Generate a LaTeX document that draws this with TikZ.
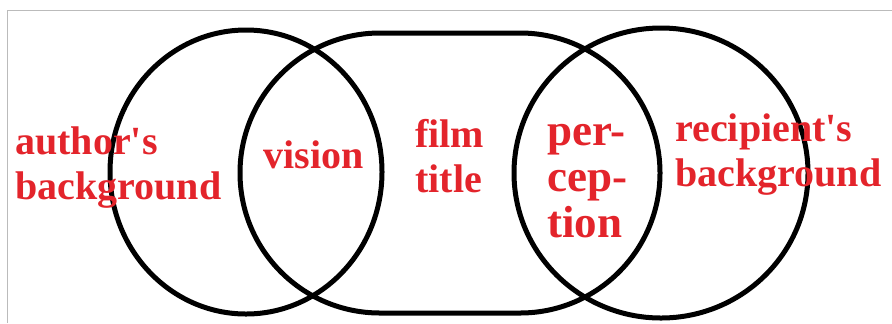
\documentclass[tikz,border=0pt]{standalone}
\usepackage{fontspec}
\setmainfont{Liberation Serif}
\usepackage{xcolor}
\usepackage{tikz}
\usetikzlibrary{shapes.geometric}
\definecolor{labelred}{HTML}{E3242B}
\definecolor{framegray}{HTML}{BBBBBB}

\begin{document}
\begin{tikzpicture}[
  x=0.5pt, y=-0.5pt,
  ring/.style={draw=black, line width=2.5pt, ellipse, inner sep=0pt},
  lbl/.style={text=labelred, font=\bfseries\fontsize{20pt}{22.5pt}\selectfont, align=left, inner sep=0pt, anchor=base west},
  biglbl/.style={lbl, font=\bfseries\fontsize{22.5pt}{23pt}\selectfont}
]
\useasboundingbox (0,0) rectangle (892,323);
\draw[framegray, line width=0.5pt] (7,323) -- (7,10) -- (892,10);
\node[ring, minimum width=136pt, minimum height=142pt] (author) at (246,172) {};
\node[draw=black, line width=2.5pt, rounded corners=70pt, minimum width=210pt, minimum height=140pt] (film) at (450,173) {};
\node[ring, minimum width=147pt, minimum height=145pt] (recipient) at (661,173) {};
% anchor base = last line
\node[lbl] (authorbg) at (15,199) {author\textquotesingle s\\background};
\node[lbl] (vision) at (263,168) {vision};
\node[lbl] (title) at (415,192) {film\\title};
\node[biglbl] (perception) at (547,237) {per-\\cep-\\tion};
\node[lbl] (recipientbg) at (675,186) {recipient\textquotesingle s\\background};
\end{tikzpicture}
\end{document}
